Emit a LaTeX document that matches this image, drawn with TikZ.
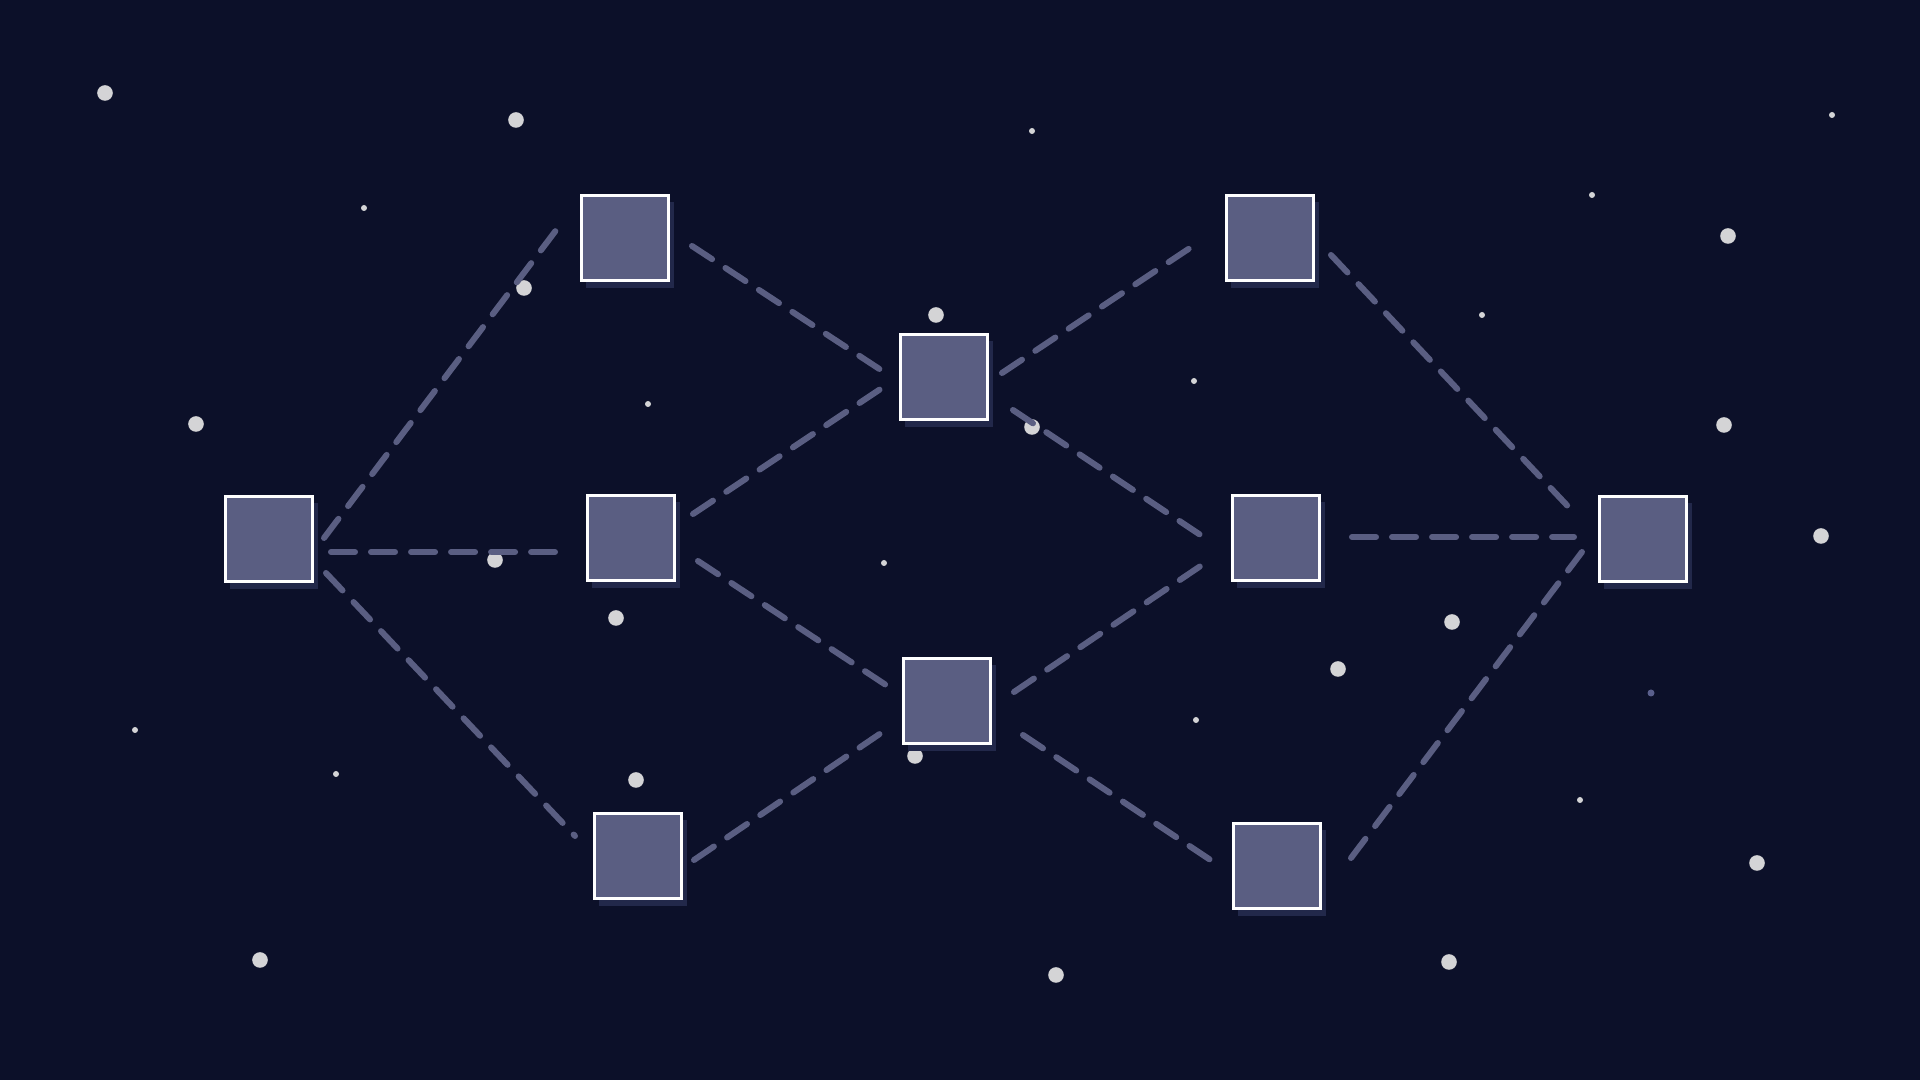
\documentclass[tikz,border=0pt]{standalone}
\usepackage{tikz}
\usetikzlibrary{shadows}

\definecolor{nightbg}{RGB}{12,16,41}
\definecolor{boxfill}{RGB}{90,94,130}
\definecolor{boxshade}{RGB}{34,40,74}
\definecolor{linkcol}{RGB}{90,94,130}
\definecolor{starcol}{RGB}{212,212,214}
\definecolor{dimstar}{RGB}{90,95,140}

\tikzset{
  hub/.style={draw=white, line width=0.03cm, fill=boxfill, inner sep=0pt,
    minimum width=0.87cm, minimum height=0.85cm,
    general shadow={fill=boxshade, shadow xshift=0.05cm, shadow yshift=-0.07cm}},
  link/.style={draw=linkcol, line width=0.06cm, line cap=round,
    dash pattern=on 0.24cm off 0.16cm},
}

\begin{document}
\begin{tikzpicture}[x=0.01cm, y=-0.01cm]
    % Nền
    \fill[nightbg] (0,0) rectangle (1920,1080);

    % Sao lớn
    \foreach \sx/\sy in {105/93, 516/120, 524/288, 196/424, 495/560, 616/618,
        636/780, 260/960, 936/315, 1032/427, 915/756, 1056/975, 1728/236,
        1724/425, 1821/536, 1452/622, 1338/669, 1757/863, 1449/962}
        \fill[starcol] (\sx,\sy) circle[radius=0.078cm];
    % Sao nhỏ
    \foreach \sx/\sy in {364/208, 648/404, 135/730, 336/774, 884/563, 1032/131,
        1194/381, 1196/720, 1482/315, 1592/195, 1832/115, 1580/800}
        \fill[starcol] (\sx,\sy) circle[radius=0.03cm];
    \fill[dimstar] (1651,693) circle[radius=0.035cm];

    % Các ô
    \node[hub] (L) at (269,539) {};
    \node[hub] (A1) at (625,238) {};
    \node[hub] (A2) at (631,538) {};
    \node[hub] (A3) at (638,856) {};
    \node[hub] (B1) at (944,377) {};
    \node[hub] (B2) at (947,701) {};
    \node[hub] (C1) at (1270,238) {};
    \node[hub] (C2) at (1276,538) {};
    \node[hub] (C3) at (1277,866) {};
    \node[hub] (R) at (1643,539) {};

    % Đoạn nối
    \draw[link] ([shift={(55,-1)}]L.center) -- ([shift={(-68,-9)}]A1.center);
    \draw[link] ([shift={(62,13)}]L.center) -- ([shift={(-76,14)}]A2.center);
    \draw[link] ([shift={(57,34)}]L.center) -- ([shift={(-63,-20)}]A3.center);
    \draw[link] ([shift={(67,8)}]A1.center) -- ([shift={(-57,-3)}]B1.center);
    \draw[link] ([shift={(62,-24)}]A2.center) -- ([shift={(-59,9)}]B1.center);
    \draw[link] ([shift={(67,23)}]A2.center) -- ([shift={(-55,-12)}]B2.center);
    \draw[link] ([shift={(56,4)}]A3.center) -- ([shift={(-60,28)}]B2.center);
    \draw[link] ([shift={(58,-4)}]B1.center) -- ([shift={(-74,6)}]C1.center);
    \draw[link] ([shift={(69,33)}]B1.center) -- ([shift={(-71,0)}]C2.center);
    \draw[link] ([shift={(67,-9)}]B2.center) -- ([shift={(-71,25)}]C2.center);
    \draw[link] ([shift={(76,34)}]B2.center) -- ([shift={(-62,-3)}]C3.center);
    \draw[link] ([shift={(61,17)}]C1.center) -- ([shift={(-65,-22)}]R.center);
    \draw[link] ([shift={(76,-1)}]C2.center) -- ([shift={(-69,-2)}]R.center);
    \draw[link] ([shift={(74,-8)}]C3.center) -- ([shift={(-61,13)}]R.center);
\end{tikzpicture}
\end{document}
